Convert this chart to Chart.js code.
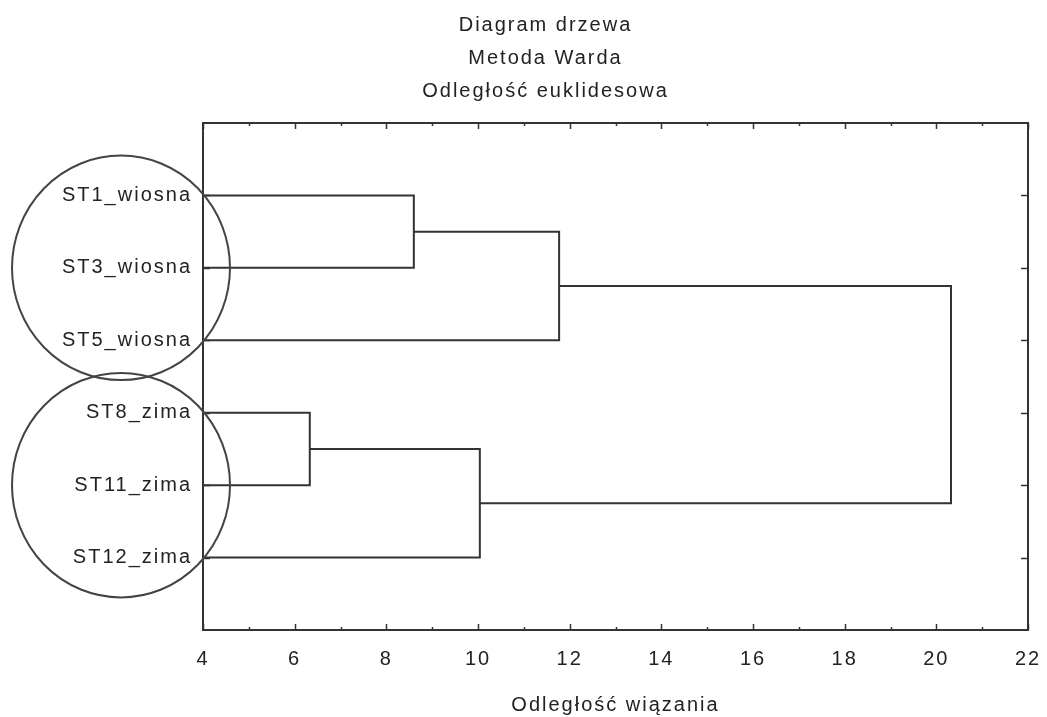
<!DOCTYPE html>
<html>
<head>
<meta charset="utf-8">
<script src="https://cdn.jsdelivr.net/npm/chart.js@4/dist/chart.umd.min.js"></script>
<style>
  html, body { margin: 0; padding: 0; background: #fff; }
  #wrap { width: 1047px; height: 717px; }
</style>
</head>
<body>
<div id="wrap"><canvas id="c"></canvas></div>
<script>
// Leaves of the tree, top to bottom
const leaves = ['ST1_wiosna', 'ST3_wiosna', 'ST5_wiosna', 'ST8_zima', 'ST11_zima', 'ST12_zima'];

// Ward linkage steps: node ids 0..5 are leaves, each step creates node 6, 7, ...
const linkA = [0, 3, 6, 7, 8];
const linkB = [1, 4, 2, 5, 9];
const linkHeight = [8.6, 6.33, 11.77, 10.04, 20.32];

// Axis settings
const xMin = 4, xMax = 22, xStep = 2;
const titleLines = ['Diagram drzewa', 'Metoda Warda', 'Odległość euklidesowa'];
const xTitle = 'Odległość wiązania';

const ink = '#222';
const FONT = "'Liberation Sans', Arial, sans-serif";

// Build node positions and one bracket polyline per linkage step
const nodeX = leaves.map(() => xMin);
const nodeY = leaves.map((_, i) => i);
const datasets = [];
linkA.forEach((a, k) => {
  const b = linkB[k], h = linkHeight[k];
  datasets.push({
    data: [
      { x: nodeX[a], y: nodeY[a] },
      { x: h, y: nodeY[a] },
      { x: h, y: nodeY[b] },
      { x: nodeX[b], y: nodeY[b] }
    ],
    showLine: true,
    borderColor: '#333',
    borderWidth: 2,
    pointRadius: 0,
    fill: false,
    tension: 0
  });
  nodeX.push(h);
  nodeY.push((nodeY[a] + nodeY[b]) / 2);
});

// Frame, inward tick marks, and the two group ellipses
const framePlugin = {
  id: 'frame',
  beforeDraw(chart) {
    chart.ctx.letterSpacing = '2px';
  },
  afterDraw(chart) {
    const { ctx, chartArea: a, scales } = chart;
    const xs = scales.x, ys = scales.y;
    ctx.save();
    ctx.strokeStyle = '#333';
    ctx.lineWidth = 2;
    ctx.strokeRect(a.left, a.top, a.right - a.left, a.bottom - a.top);
    ctx.lineWidth = 1.5;
    ctx.beginPath();
    for (let v = xMin; v <= xMax; v++) {
      const px = Math.round(xs.getPixelForValue(v)) + 0.5;
      const len = (v - xMin) % xStep === 0 ? 6 : 3;
      ctx.moveTo(px, a.bottom); ctx.lineTo(px, a.bottom - len);
      ctx.moveTo(px, a.top); ctx.lineTo(px, a.top + len);
    }
    leaves.forEach((_, i) => {
      const py = Math.round(ys.getPixelForValue(i)) + 0.5;
      ctx.moveTo(a.right, py); ctx.lineTo(a.right - 7, py);
      ctx.moveTo(a.left, py); ctx.lineTo(a.left + 7, py);
    });
    ctx.stroke();

    // ellipses around the spring and winter groups
    const unit = ys.getPixelForValue(1) - ys.getPixelForValue(0);
    const cx = a.left - 82;
    ctx.strokeStyle = '#444';
    ctx.lineWidth = 2;
    [1, 4].forEach(c => {
      ctx.beginPath();
      ctx.ellipse(cx, ys.getPixelForValue(c), 109, unit * 1.55, 0, 0, Math.PI * 2);
      ctx.stroke();
    });
    ctx.restore();
  }
};

new Chart(document.getElementById('c'), {
  type: 'scatter',
  data: { datasets },
  plugins: [framePlugin],
  options: {
    responsive: true,
    maintainAspectRatio: false,
    animation: false,
    layout: { padding: { left: 44, right: 0, top: 0, bottom: 0 } },
    plugins: {
      legend: { display: false },
      tooltip: { enabled: false },
      title: {
        display: true,
        text: titleLines,
        color: ink,
        font: { family: FONT, size: 20, weight: 'normal', lineHeight: 1.65 },
        padding: { top: 9, bottom: 15 }
      }
    },
    scales: {
      x: {
        type: 'linear',
        min: xMin,
        max: xMax,
        grid: { display: false },
        border: { display: false },
        ticks: {
          stepSize: xStep,
          color: ink,
          padding: 9,
          font: { family: FONT, size: 20 }
        },
        title: {
          display: true,
          text: xTitle,
          color: ink,
          font: { family: FONT, size: 20 },
          padding: { top: 0, bottom: 0 }
        },
        afterFit(s) { s.height = 87; s.paddingLeft = 0; s.paddingRight = 0; }
      },
      y: {
        type: 'linear',
        min: -1,
        max: leaves.length,
        reverse: true,
        grid: { display: false },
        border: { display: false },
        ticks: {
          stepSize: 1,
          autoSkip: false,
          color: ink,
          padding: 3,
          font: { family: FONT, size: 20 },
          callback: v => leaves[v] !== undefined ? leaves[v] : ''
        },
        afterFit(s) { s.width = 159; }
      },
      y2: {
        type: 'linear',
        position: 'right',
        min: -1,
        max: leaves.length,
        reverse: true,
        grid: { display: false },
        border: { display: false },
        ticks: { display: false },
        afterFit(s) { s.width = 19; }
      }
    }
  }
});
</script>
</body>
</html>
